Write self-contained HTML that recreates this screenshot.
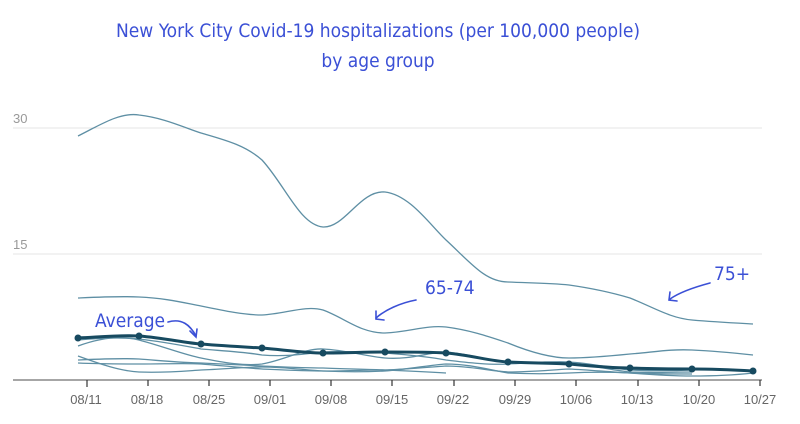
<!DOCTYPE html>
<html><head><meta charset="utf-8"><style>
html,body{margin:0;padding:0;background:#fff;width:800px;height:424px;overflow:hidden}
svg{display:block}
</style></head><body>
<svg width="800" height="424" xmlns="http://www.w3.org/2000/svg" font-family="Liberation Sans, sans-serif">
<text x="378" y="37" text-anchor="middle" font-size="19" fill="#3b50d6" font-family="DejaVu Sans Condensed, Liberation Sans Narrow, sans-serif" font-weight="300">New York City Covid-19 hospitalizations (per 100,000 people)</text>
<text x="378" y="67" text-anchor="middle" font-size="19" fill="#3b50d6" font-family="DejaVu Sans Condensed, Liberation Sans Narrow, sans-serif">by age group</text>
<g stroke="#e4e4e4" stroke-width="1"><line x1="13" y1="128" x2="762" y2="128"/><line x1="13" y1="254" x2="762" y2="254"/></g>
<text x="13" y="123" font-size="13" fill="#999">30</text>
<text x="13" y="249" font-size="13" fill="#999">15</text>
<line x1="13" y1="380" x2="762" y2="380" stroke="#888" stroke-width="1.5"/>
<g stroke="#333" stroke-width="1.2">
<line x1="87" y1="380" x2="87" y2="387"/><line x1="148" y1="380" x2="148" y2="386"/><line x1="209" y1="380" x2="209" y2="386"/><line x1="270" y1="380" x2="270" y2="386"/><line x1="331" y1="380" x2="331" y2="386"/><line x1="392" y1="380" x2="392" y2="386"/><line x1="454" y1="380" x2="454" y2="386"/><line x1="515" y1="380" x2="515" y2="386"/><line x1="576" y1="380" x2="576" y2="386"/><line x1="638" y1="380" x2="638" y2="386"/><line x1="699" y1="380" x2="699" y2="386"/><line x1="760" y1="380" x2="760" y2="386"/>
</g>
<g font-size="13" fill="#666" text-anchor="middle">
<text x="86" y="404">08/11</text><text x="147" y="404">08/18</text><text x="209" y="404">08/25</text><text x="270" y="404">09/01</text><text x="331" y="404">09/08</text><text x="392" y="404">09/15</text><text x="453" y="404">09/22</text><text x="515" y="404">09/29</text><text x="576" y="404">10/06</text><text x="637" y="404">10/13</text><text x="699" y="404">10/20</text><text x="760" y="404">10/27</text>
</g>
<g fill="none" stroke="#5e8fa4" stroke-width="1.3">
<path d="M78,136 C100,125 120,112 139,115 C165,118 185,128 201,133 C225,140 245,145 262,160 C285,185 300,225 323,227 C345,228 360,190 385,192 C410,195 430,225 446,240 C470,262 485,282 508,282 C530,283 550,283 569,285 C590,288 610,292 630,298 C655,308 670,318 692,320 C715,322 735,323 753,324"/>
<path d="M78,298 C100,297 120,296 139,297 C165,298 185,303 201,306 C225,311 245,315 262,315 C285,314 305,305 323,310 C345,318 360,333 385,333 C410,332 425,325 446,327 C470,330 490,337 508,343 C530,352 550,358 569,358 C590,358 610,356 630,354 C655,352 670,349 692,350 C715,351 735,353 753,355"/>
<path d="M78,346 C100,338 120,335 139,340 C165,347 185,355 201,358 C225,363 245,366 262,364 C285,360 305,348 323,349 C345,350 365,356 385,358 C410,360 430,352 446,352 C470,354 490,361 508,362 C530,363 550,362 569,363 C590,365 610,370 630,372 C655,373 670,372 692,372"/>
<path d="M78,340 C100,338 120,337 139,339 C165,342 185,346 201,349 C225,351 245,352 262,355 C285,357 305,354 323,352 C345,351 365,352 385,353 C410,355 430,357 446,360 C470,363 490,365 508,364 C530,363 550,361 569,362 C590,363 610,368 630,370 C655,371 670,371 692,370"/>
<path d="M78,360 C100,359 120,358 139,359 C165,361 185,363 201,363 C225,364 245,365 262,366 C285,367 305,368 323,368 C345,369 365,369 385,370 C410,371 430,372 446,373"/>
<path d="M78,363 C100,364 120,364 139,364 C165,364 185,363 201,364 C225,366 245,368 262,369 C285,370 305,371 323,371 C345,371 365,370 385,370 C410,369 430,367 446,366 C470,366 490,371 508,372 C530,372 550,370 569,369 C590,370 610,372 630,373 C655,374 670,374 692,374"/>
<path d="M78,356 C100,364 120,371 139,372 C165,373 185,371 201,370 C225,369 245,367 262,367 C285,367 305,370 323,371 C345,372 365,372 385,371 C410,369 430,365 446,364 C470,364 490,370 508,373 C530,374 550,374 569,373 C590,372 610,372 630,373 C655,375 670,376 692,376 C715,376 735,375 753,373"/>
</g>
<path d="M78,338 C100,337 120,335 139,336 C165,338 185,343 201,344 C225,346 245,347 262,348 C285,350 305,353 323,353 C345,353 365,352 385,352 C410,352 430,352 446,353 C470,355 490,361 508,362 C530,363 550,363 569,364 C590,366 610,368 630,368 C655,369 670,369 692,369 C715,369 735,370 753,371" fill="none" stroke="#174a60" stroke-width="3"/>
<g fill="#174a60">
<circle cx="78" cy="338" r="3.5"/><circle cx="139" cy="336" r="3.5"/><circle cx="201" cy="344" r="3.5"/><circle cx="262" cy="348" r="3.5"/><circle cx="323" cy="353" r="3.5"/><circle cx="385" cy="352" r="3.5"/><circle cx="446" cy="353" r="3.5"/><circle cx="508" cy="362" r="3.5"/><circle cx="569" cy="364" r="3.5"/><circle cx="630" cy="368" r="3.5"/><circle cx="692" cy="369" r="3.5"/><circle cx="753" cy="371" r="3.5"/>
</g>
<g fill="#3b50d6" font-size="19" font-family="DejaVu Sans Condensed, Liberation Sans Narrow, sans-serif">
<text x="95" y="327">Average</text>
<text x="425" y="294">65-74</text>
<text x="714" y="280">75+</text>
</g>
<g fill="none" stroke="#3b50d6" stroke-width="1.6" stroke-linecap="round">
<path d="M168,322 C182,318 190,325 196,336"/><path d="M190,331 L196,337 L197,329"/>
<path d="M416,300 C400,303 385,310 376,318"/><path d="M376,311 L376,319 L384,320"/>
<path d="M710,283 C695,287 680,292 670,299"/><path d="M670,292 L669,300 L677,301"/>
</g>
</svg>
</body></html>
